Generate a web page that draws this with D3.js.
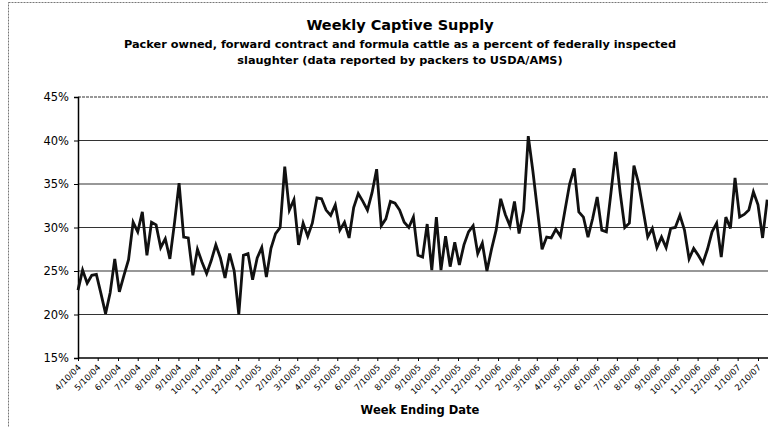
<!DOCTYPE html>
<html>
<head>
  <meta charset="utf-8">
  <title>Weekly Captive Supply</title>
  <style>
    body { margin: 0; background: #fff; }
    .title { font-family: "DejaVu Sans", Verdana, sans-serif; font-weight: bold; fill: #000; }
    .axis text { font-family: "DejaVu Sans", Verdana, sans-serif; fill: #000; }
    .grid line { stroke: #333; stroke-width: 1.2; }
  </style>
</head>
<body>
<svg width="768" height="427"></svg>
<script src="https://cdn.jsdelivr.net/npm/d3@7"></script>
<script>

// week ending dates start 4/10/04, one value per week (percent of FI slaughter)
var startDate = "2004-04-10";
var captivePct = [
  22.8, 25.1, 23.6, 24.5, 24.6, 22.4, 20.1, 22.5, 26.4, 22.6,
  24.5, 26.3, 30.6, 29.5, 31.8, 26.8, 30.6, 30.3, 27.7, 28.7,
  26.4, 30.5, 35.1, 28.9, 28.8, 24.5, 27.5, 26.0, 24.7, 26.2,
  28.0, 26.5, 24.2, 27.0, 25.0, 20.0, 26.8, 27.0, 24.0, 26.5,
  27.7, 24.3, 27.6, 29.3, 30.0, 37.0, 32.0, 33.2, 28.0, 30.5,
  29.0, 30.5, 33.4, 33.3, 32.0, 31.4, 32.6, 29.7, 30.6, 28.8,
  32.3, 33.9, 33.0, 32.0, 34.0, 36.7, 30.2, 31.0, 33.0, 32.8,
  32.0, 30.6, 30.0, 31.2, 26.8, 26.6, 30.4, 25.1, 31.2, 25.1,
  29.0, 25.5, 28.3, 25.7, 28.0, 29.5, 30.2, 27.0, 28.2, 25.0,
  27.5, 29.7, 33.3, 31.5, 30.2, 33.0, 29.3, 32.0, 40.5, 36.5,
  32.0, 27.5, 28.9, 28.8, 29.8, 29.0, 32.0, 35.0, 36.8, 31.8,
  31.2, 28.9, 31.0, 33.5, 29.7, 29.5, 34.0, 38.7, 34.0, 30.0,
  30.5, 37.1, 35.1, 32.0, 28.9, 29.9, 27.7, 28.9, 27.7, 29.9,
  30.0, 31.4, 29.7, 26.4, 27.6, 26.8, 25.9, 27.5, 29.5, 30.5,
  26.6, 31.2, 29.9, 35.7, 31.2, 31.5, 32.0, 34.1, 32.6, 28.8,
  33.2
];
var yTicks = [15, 20, 25, 30, 35, 40, 45];
var monthTickCount = 35; // 4/10/04 .. 2/10/07

var titleText = "Weekly Captive Supply";
var subtitleLines = [
  "Packer owned, forward contract and formula cattle as a percent of federally inspected",
  "slaughter (data reported by packers to USDA/AMS)"
];
var xTitle = "Week Ending Date";

var svg = d3.select("svg");
var width = +svg.attr("width"),
    height = +svg.attr("height");

var parse = d3.timeParse("%Y-%m-%d");
var t0 = parse(startDate);
var data = captivePct.map(function(v, i) {
  return { date: d3.timeDay.offset(t0, i * 7), value: v };
});
var monthTicks = d3.range(monthTickCount).map(function(i) { return d3.timeMonth.offset(t0, i); });

var plot = { left: 78, right: 758, top: 97, bottom: 358 };

var x = d3.scaleTime()
  .domain([t0, monthTicks[monthTicks.length - 1]])
  .range([plot.left, plot.right]);
var y = d3.scaleLinear()
  .domain([15, 45])
  .range([plot.bottom, plot.top]);

// outer chart border (cut off at right like the scan)
svg.append("rect")
  .attr("x", 8.5).attr("y", 2.5)
  .attr("width", width + 20).attr("height", height + 20)
  .attr("fill", "none").attr("stroke", "#777").attr("stroke-width", 1)
  .attr("stroke-dasharray", "2,1");

// titles
svg.append("text").attr("class", "title")
  .attr("x", 400).attr("y", 30)
  .attr("text-anchor", "middle")
  .style("font-size", "14.5px")
  .text(titleText);
svg.selectAll(".subtitle").data(subtitleLines).enter().append("text")
  .attr("class", "title subtitle")
  .attr("x", 400).attr("y", function(d, i) { return 48 + i * 16; })
  .attr("text-anchor", "middle")
  .style("font-size", "11.3px")
  .text(function(d) { return d; });

// gridlines
svg.append("g").attr("class", "grid")
  .selectAll("line").data(yTicks.filter(function(d) { return d > 15; }))
  .enter().append("line")
  .attr("x1", plot.left).attr("x2", width)
  .attr("y1", function(d) { return y(d); }).attr("y2", function(d) { return y(d); })
  .attr("stroke-dasharray", function(d) { return d === 45 ? "3,1" : null; })
  .attr("stroke", function(d) { return d === 45 ? "#888" : "#333"; });

// y axis
var yAxis = svg.append("g").attr("class", "axis")
  .attr("transform", "translate(" + plot.left + ",0)")
  .call(d3.axisLeft(y).tickValues(yTicks).tickSize(4).tickFormat(function(d) { return d + "%"; }));
yAxis.select(".domain").attr("stroke", "#000").attr("stroke-width", 1.5);
yAxis.selectAll(".tick line").attr("stroke", "#000");
yAxis.selectAll("text").style("font-size", "11.5px").attr("x", -9);

// x axis
var xAxis = svg.append("g").attr("class", "axis")
  .attr("transform", "translate(0," + plot.bottom + ")")
  .call(d3.axisBottom(x).tickValues(monthTicks).tickSize(3).tickFormat(d3.timeFormat("%-m/%d/%y")));
xAxis.select(".domain").attr("stroke", "#000").attr("stroke-width", 1.5)
  .attr("d", "M" + plot.left + ",0H" + width);
xAxis.selectAll(".tick line").attr("stroke", "#000");
xAxis.selectAll("text")
  .style("font-size", "8.5px")
  .attr("text-anchor", "end")
  .attr("dy", null)
  .attr("y", 0)
  .attr("transform", "translate(3,10) rotate(-45)");

svg.append("text").attr("class", "title")
  .attr("x", 420).attr("y", 414)
  .attr("text-anchor", "middle")
  .style("font-size", "11.5px")
  .text(xTitle);

// the series line
var line = d3.line()
  .x(function(d) { return x(d.date); })
  .y(function(d) { return y(d.value); });

svg.append("path")
  .datum(data)
  .attr("fill", "none")
  .attr("stroke", "#111")
  .attr("stroke-width", 2.8)
  .attr("stroke-linejoin", "miter")
  .attr("d", line);

</script>
</body>
</html>
